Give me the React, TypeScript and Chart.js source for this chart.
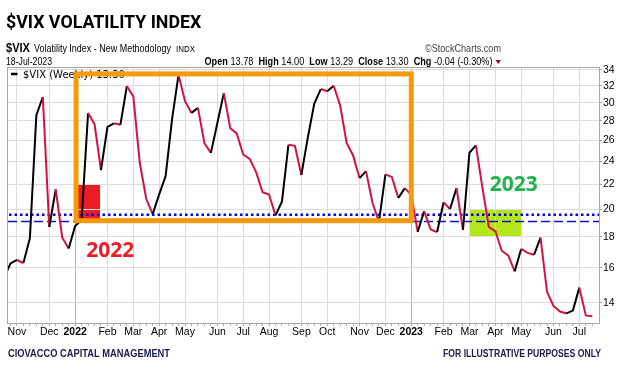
import React, { useEffect, useRef } from "react";
import { Chart, registerables } from "chart.js";

Chart.register(...registerables);

// ---------- DATA ----------
const weekDates: string[] = [
  "2021-10-18", "2021-10-25", "2021-11-01", "2021-11-08", "2021-11-15", "2021-11-22", "2021-11-29",
  "2021-12-06", "2021-12-13", "2021-12-20", "2021-12-27",
  "2022-01-03", "2022-01-10", "2022-01-17", "2022-01-24", "2022-01-31", "2022-02-07", "2022-02-14",
  "2022-02-21", "2022-02-28", "2022-03-07", "2022-03-14", "2022-03-21", "2022-03-28", "2022-04-04",
  "2022-04-11", "2022-04-18", "2022-04-25", "2022-05-02", "2022-05-09", "2022-05-16", "2022-05-23",
  "2022-05-30", "2022-06-06", "2022-06-13", "2022-06-20", "2022-06-27", "2022-07-04", "2022-07-11",
  "2022-07-18", "2022-07-25", "2022-08-01", "2022-08-08", "2022-08-15", "2022-08-22", "2022-08-29",
  "2022-09-05", "2022-09-12", "2022-09-19", "2022-09-26", "2022-10-03", "2022-10-10", "2022-10-17",
  "2022-10-24", "2022-10-31", "2022-11-07", "2022-11-14", "2022-11-21", "2022-11-28", "2022-12-05",
  "2022-12-12", "2022-12-19", "2022-12-26",
  "2023-01-02", "2023-01-09", "2023-01-16", "2023-01-23", "2023-01-30", "2023-02-06", "2023-02-13",
  "2023-02-20", "2023-02-27", "2023-03-06", "2023-03-13", "2023-03-20", "2023-03-27", "2023-04-03",
  "2023-04-10", "2023-04-17", "2023-04-24", "2023-05-01", "2023-05-08", "2023-05-15", "2023-05-22",
  "2023-05-29", "2023-06-05", "2023-06-12", "2023-06-19", "2023-06-26", "2023-07-03", "2023-07-10",
  "2023-07-17",
];

const vixClose: number[] = [
  15.43, 16.26, 16.48, 16.29, 17.91, 28.62, 30.67,
  18.69, 21.57, 17.96, 17.22,
  18.76, 19.19, 28.85, 27.66, 23.22, 27.36, 27.75,
  27.59, 31.98, 30.75, 23.87, 20.81, 19.63, 21.16,
  22.7, 28.21, 33.4, 30.19, 28.87, 29.43, 25.72,
  24.79, 27.75, 31.13, 27.23, 26.7, 24.64, 24.23,
  23.03, 21.33, 21.15, 19.53, 20.6, 25.56, 25.47,
  22.79, 26.3, 29.92, 31.62, 31.36, 32.02, 29.69,
  25.75, 24.55, 22.52, 23.12, 20.5, 19.06, 22.83,
  22.62, 20.87, 21.67,
  21.13, 18.35, 19.85, 18.51, 18.33, 20.53, 20.02,
  21.67, 18.49, 24.8, 25.51, 21.74, 18.7, 18.4,
  17.07, 16.77, 15.78, 17.19, 16.93, 16.81, 17.95,
  14.6, 13.83, 13.54, 13.44, 13.59, 14.83, 13.34,
  13.3,
];

const monthTickDates: string[] = [
  "2021-11-01", "2021-12-06", "2022-01-03", "2022-02-07", "2022-03-07", "2022-04-04", "2022-05-02",
  "2022-06-06", "2022-07-04", "2022-08-01", "2022-09-05", "2022-10-03", "2022-11-07", "2022-12-05",
  "2023-01-02", "2023-02-06", "2023-03-06", "2023-04-03", "2023-05-01", "2023-06-05", "2023-07-03",
];
const monthTickLabels: string[] = [
  "Nov", "Dec", "2022", "Feb", "Mar", "Apr", "May",
  "Jun", "Jul", "Aug", "Sep", "Oct", "Nov", "Dec",
  "2023", "Feb", "Mar", "Apr", "May", "Jun", "Jul",
];
const yearLabels: string[] = ["2022", "2023"];

const yTicks: number[] = [14, 16, 18, 20, 22, 24, 26, 28, 30, 32, 34];
const yRange: number[] = [12.96, 34.26];
const xRange: string[] = ["2021-10-22", "2023-07-24"];

// annotation anchors in data units
const orangeBoxX: string[] = ["2022-01-04", "2023-01-02"];
const orangeBoxY: number[] = [19.14, 33.5];
const redSquareX: string[] = ["2022-01-06", "2022-01-30"];
const redSquareY: number[] = [19.14, 22];
const greenSquareX: string[] = ["2023-03-06", "2023-05-01"];
const greenSquareY: number[] = [18, 20];
const dottedLevel = 19.58;
const dashedLevel = 19.1;
const label2022At: [string, number] = ["2022-01-15", 16.65];
const label2023At: [string, number] = ["2023-03-28", 21.4];

const quoteParts: [string, boolean][] = [
  ["Open", true], [" 13.78  ", false],
  ["High", true], [" 14.00  ", false],
  ["Low", true], [" 13.29  ", false],
  ["Close", true], [" 13.30  ", false],
  ["Chg", true], [" -0.04 (-0.30%)", false],
];

// ---------- helpers ----------
const dayNum = (s: string) => {
  const [y, m, d] = s.split("-").map(Number);
  return Date.UTC(y, m - 1, d) / 86400000;
};

const UP = "#000000";
const DOWN = "#D6123C";
const FONT = '"Liberation Sans", Arial, sans-serif';

// draws text in a given font size, horizontally squeezed to a given width
const drawFit = (ctx: any, text: string, x: number, y: number, font: string, width: number, align: "left" | "right" = "left") => {
  ctx.save();
  ctx.font = font;
  ctx.textAlign = "left";
  const w = ctx.measureText(text).width;
  const sx = width / w;
  ctx.translate(align === "left" ? x : x - width, y);
  ctx.scale(sx, 1);
  ctx.fillText(text, 0, 0);
  ctx.restore();
};

export default function App() {
  const ref = useRef<HTMLCanvasElement | null>(null);

  useEffect(() => {
    if (!ref.current) return;
    const monthDays = monthTickDates.map(dayNum);
    const labelMap = new Map<number, string>();
    monthDays.forEach((d, i) => labelMap.set(d, monthTickLabels[i]));
    const xMin = dayNum(xRange[0]) + 0.3;
    const xMax = dayNum(xRange[1]) + 0.3;
    const tickDays = weekDates.map(dayNum).filter((d) => d >= xMin && d <= xMax);
    const points = weekDates.map((d, i) => ({ x: dayNum(d), y: vixClose[i] }));

    const overlay = {
      id: "overlay",
      beforeDraw(chart: any) {
        const { ctx, scales } = chart;
        const x = scales.x, y = scales.y;
        ctx.save();
        ctx.fillStyle = "#ED1C24";
        const rx0 = x.getPixelForValue(dayNum(redSquareX[0]));
        const rx1 = x.getPixelForValue(dayNum(redSquareX[1]));
        const ry0 = y.getPixelForValue(redSquareY[1]);
        const ry1 = y.getPixelForValue(redSquareY[0]);
        ctx.fillRect(rx0, ry0, rx1 - rx0, ry1 - ry0);
        ctx.fillStyle = "#B5E61D";
        const gx0 = x.getPixelForValue(dayNum(greenSquareX[0]));
        const gx1 = x.getPixelForValue(dayNum(greenSquareX[1]));
        const gy0 = y.getPixelForValue(greenSquareY[1]);
        const gy1 = y.getPixelForValue(greenSquareY[0]);
        ctx.fillRect(gx0, gy0, gx1 - gx0, gy1 - gy0);
        ctx.restore();
      },
      beforeDatasetsDraw(chart: any) {
        const { ctx, scales, chartArea } = chart;
        const y = scales.y;
        ctx.save();
        ctx.beginPath();
        ctx.rect(chartArea.left, chartArea.top, chartArea.right - chartArea.left, chartArea.bottom - chartArea.top);
        ctx.clip();
        const yd = Math.round(y.getPixelForValue(dashedLevel)) + 0.5;
        ctx.strokeStyle = "#0A14C8";
        ctx.lineWidth = 1.5;
        ctx.setLineDash([9, 4]);
        ctx.beginPath();
        ctx.moveTo(chartArea.left, yd);
        ctx.lineTo(chartArea.right, yd);
        ctx.stroke();
        const yt = y.getPixelForValue(dottedLevel);
        ctx.strokeStyle = "#0000FF";
        ctx.lineWidth = 2.5;
        ctx.setLineDash([2.5, 3]);
        ctx.beginPath();
        ctx.moveTo(chartArea.left + 1, yt);
        ctx.lineTo(chartArea.right, yt);
        ctx.stroke();
        ctx.restore();
      },
      afterDatasetsDraw(chart: any) {
        const { ctx, scales, chartArea } = chart;
        const x = scales.x, y = scales.y;
        ctx.save();
        ctx.strokeStyle = "#000";
        ctx.lineWidth = 2.5;
        ctx.beginPath();
        ctx.moveTo(chartArea.left + 3, chartArea.top + 6);
        ctx.lineTo(chartArea.left + 9.5, chartArea.top + 6);
        ctx.stroke();
        ctx.fillStyle = "#000";
        ctx.font = '10px "DejaVu Sans", sans-serif';
        ctx.textBaseline = "alphabetic";
        ctx.fillText("$VIX (Weekly) 13.30", chartArea.left + 15, chartArea.top + 10);
        const ox0 = x.getPixelForValue(dayNum(orangeBoxX[0]));
        const ox1 = x.getPixelForValue(dayNum(orangeBoxX[1]));
        const oy0 = y.getPixelForValue(orangeBoxY[1]);
        const oy1 = y.getPixelForValue(orangeBoxY[0]);
        ctx.strokeStyle = "#F59A0A";
        ctx.lineWidth = 5;
        ctx.lineJoin = "miter";
        ctx.strokeRect(ox0, oy0, ox1 - ox0, oy1 - oy0);
        ctx.font = 'bold 21px "Open Sans", sans-serif';
        ctx.fillStyle = "#ED1C24";
        ctx.fillText("2022", x.getPixelForValue(dayNum(label2022At[0])), y.getPixelForValue(label2022At[1]));
        ctx.fillStyle = "#22B14C";
        ctx.fillText("2023", x.getPixelForValue(dayNum(label2023At[0])), y.getPixelForValue(label2023At[1]));
        ctx.restore();
      },
      afterDraw(chart: any) {
        const { ctx, chartArea } = chart;
        ctx.save();
        ctx.strokeStyle = "#A8A8A8";
        ctx.lineWidth = 1;
        ctx.strokeRect(chartArea.left - 0.5, chartArea.top - 0.5, chartArea.right - chartArea.left + 1, chartArea.bottom - chartArea.top + 1);
        ctx.textBaseline = "alphabetic";
        ctx.fillStyle = "#000";
        ctx.font = 'bold 17.8px Roboto, sans-serif';
        ctx.fillText("$VIX VOLATILITY INDEX", 6, 28);
        drawFit(ctx, "$VIX", 6, 52, `bold 13.5px ${FONT}`, 24);
        drawFit(ctx, "Volatility Index - New Methodology", 34, 52, `11px ${FONT}`, 137);
        drawFit(ctx, "INDX", 176, 52, `9.5px ${FONT}`, 19);
        ctx.fillStyle = "#444";
        drawFit(ctx, "\u00A9StockCharts.com", 501, 52, `11px ${FONT}`, 76, "right");
        ctx.fillStyle = "#000";
        drawFit(ctx, "18-Jul-2023", 6, 65, `11px ${FONT}`, 46);
        // quote line, squeezed to span 204.5 → 492.5
        let total = 0;
        for (const [t, b] of quoteParts) {
          ctx.font = `${b ? "bold " : ""}11.5px ${FONT}`;
          total += ctx.measureText(t).width;
        }
        const sx = 288 / total;
        ctx.save();
        ctx.translate(204.5, 65);
        ctx.scale(sx, 1);
        let cx = 0;
        for (const [t, b] of quoteParts) {
          ctx.font = `${b ? "bold " : ""}11.5px ${FONT}`;
          ctx.fillText(t, cx, 0);
          cx += ctx.measureText(t).width;
        }
        ctx.restore();
        ctx.fillStyle = "#9B0A2E";
        ctx.beginPath();
        ctx.moveTo(495.5, 60);
        ctx.lineTo(501, 60);
        ctx.lineTo(498.25, 64);
        ctx.closePath();
        ctx.fill();
        ctx.fillStyle = "#1B1B4D";
        drawFit(ctx, "CIOVACCO CAPITAL MANAGEMENT", 8, 357, `bold 10px ${FONT}`, 162);
        drawFit(ctx, "FOR ILLUSTRATIVE PURPOSES ONLY", 601, 357, `bold 10px ${FONT}`, 158, "right");
        ctx.restore();
      },
    };

    const chart = new Chart(ref.current, {
      type: "line",
      data: {
        datasets: [
          {
            data: points,
            borderWidth: 2,
            pointRadius: 0,
            tension: 0,
            borderColor: UP,
            segment: {
              borderColor: (c: any) => (c.p1.parsed.y >= c.p0.parsed.y ? UP : DOWN),
            },
          },
        ],
      },
      options: {
        animation: false,
        responsive: false,
        maintainAspectRatio: false,
        layout: { padding: { top: 68, left: 8, right: 0, bottom: 0 } },
        plugins: { legend: { display: false }, tooltip: { enabled: false }, title: { display: false } },
        scales: {
          x: {
            type: "linear",
            min: xMin,
            max: xMax,
            afterBuildTicks: (scale: any) => {
              scale.ticks = tickDays.map((v) => ({ value: v }));
            },
            afterFit: (scale: any) => {
              scale.height = 48;
            },
            border: { display: true, color: "#A8A8A8" },
            grid: {
              color: (c: any) => {
                const v = c.tick ? c.tick.value : null;
                if (v == null || !labelMap.has(v)) return "rgba(0,0,0,0)";
                return yearLabels.includes(labelMap.get(v) as string) ? "#B4B4B4" : "#DCDCDC";
              },
              tickColor: "#B0B0B0",
              tickLength: 3,
              drawTicks: true,
            },
            ticks: {
              autoSkip: false,
              maxRotation: 0,
              minRotation: 0,
              padding: 0,
              color: "#000",
              font: (c: any) => {
                const v = c.tick ? c.tick.value : null;
                const lab = v != null ? labelMap.get(v) : undefined;
                return { family: FONT, size: 10.5, weight: lab && yearLabels.includes(lab) ? "bold" : "normal" };
              },
              callback: (v: any) => labelMap.get(v as number) ?? "",
            },
          },
          y: {
            type: "logarithmic",
            position: "right",
            min: yRange[0],
            max: yRange[1],
            afterBuildTicks: (scale: any) => {
              scale.ticks = yTicks.map((v) => ({ value: v }));
            },
            afterFit: (scale: any) => {
              scale.width = 26;
            },
            border: { display: true, color: "#A8A8A8" },
            grid: { color: "#DCDCDC", tickColor: "#A0A0A0", tickLength: 3 },
            ticks: {
              padding: 1,
              color: "#000",
              font: { family: FONT, size: 10.5 },
              callback: (v: any) => String(v),
            },
          },
        },
      },
      plugins: [overlay],
    } as any);

    return () => chart.destroy();
  }, []);

  return (
    <div style={{ position: "absolute", left: 0, top: 0, width: 625, height: 371, background: "#fff" }}>
      <canvas ref={ref} width={625} height={371} style={{ display: "block" }} />
    </div>
  );
}
